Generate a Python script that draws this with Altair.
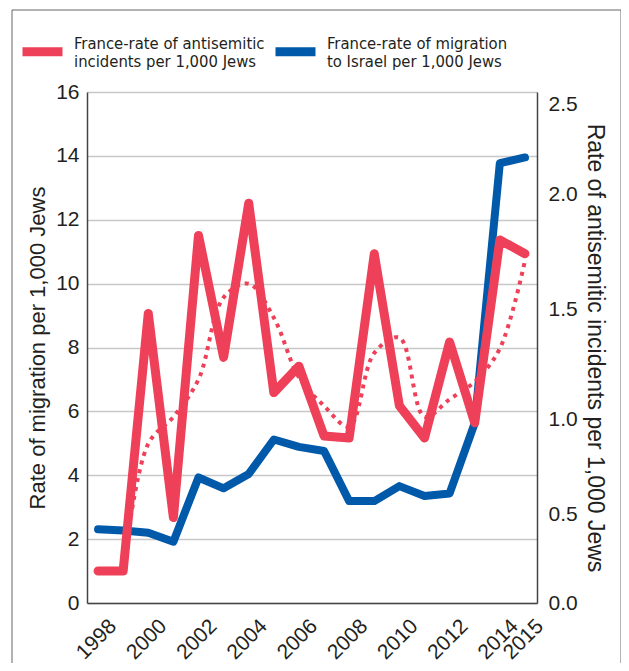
import altair as alt
import pandas as pd

years = list(range(1998, 2016))
migration = [2.31, 2.27, 2.20, 1.92, 3.93, 3.59, 4.04, 5.12, 4.89, 4.76,
             3.19, 3.19, 3.66, 3.35, 3.43, 5.63, 13.77, 13.95]
incidents = [0.18, 0.18, 1.48, 0.48, 1.82, 1.28, 1.96, 1.12, 1.24, 0.91,
             0.90, 1.74, 1.06, 0.90, 1.35, 0.98, 1.80, 1.74]
trend_years = list(range(1999, 2016))
trend = [0.18, 0.87, 1.01, 1.18, 1.55, 1.61, 1.46, 1.19, 1.06, 0.96,
         1.30, 1.37, 1.01, 1.09, 1.17, 1.32, 1.71]

label_red = "France-rate of antisemitic|incidents per 1,000 Jews"
label_blue = "France-rate of migration|to Israel per 1,000 Jews"
series_names = [label_red, label_blue]
series_colors = ["#EF4059", "#0059A9"]

x_ticks = [1998, 2000, 2002, 2004, 2006, 2008, 2010, 2012, 2014, 2015]
left_ticks = [0, 2, 4, 6, 8, 10, 12, 14, 16]
right_ticks = [0, 0.5, 1.0, 1.5, 2.0, 2.5]

df_blue = pd.DataFrame({"year": years, "value": migration, "series": label_blue})
df_red = pd.DataFrame({"year": years, "value": incidents, "series": label_red})
df_trend = pd.DataFrame({"year": trend_years, "value": trend})
df_frame = pd.DataFrame({"k": [0]})

FONT = "Liberation Sans"
NARROW = "'DejaVu Sans Condensed', Roboto, sans-serif"

x_enc = alt.X(
    "year:Q",
    scale=alt.Scale(domain=[1997.56, 2015.48], nice=False, zero=False),
    axis=alt.Axis(values=x_ticks, format="d", labelAngle=-45, grid=False,
                  ticks=False, labelFlush=False, labelOverlap=False,
                  labelFontSize=21, labelPadding=12, labelOffset=7, title=None,
                  domainColor="#444444", domainWidth=1.5),
)

color_enc = alt.Color(
    "series:N",
    scale=alt.Scale(domain=series_names, range=series_colors),
    legend=alt.Legend(
        orient="none", legendX=-69, legendY=-65, direction="horizontal",
        title=None, symbolType="stroke", symbolStrokeWidth=9, symbolSize=1600,
        symbolOpacity=1, labelFont=NARROW, labelFontSize=16.5, labelLimit=400,
        labelColor="#231f20", labelExpr="split(datum.label, '|')",
        labelBaseline="bottom",
        columnPadding=-8, labelOffset=7, padding=0,
    ),
)

frame = alt.Chart(df_frame).mark_rect(
    fill="white", fillOpacity=0, stroke="#666666", strokeWidth=1
).encode(
    x=alt.value(-75), x2=alt.value(534), y=alt.value(-82), y2=alt.value(700)
)

blue = alt.Chart(df_blue).mark_line(
    strokeWidth=8, strokeCap="round", strokeJoin="round"
).encode(
    x=x_enc,
    y=alt.Y("value:Q",
            scale=alt.Scale(domain=[0, 16], nice=False, zero=True),
            axis=alt.Axis(values=left_ticks, format="d", grid=True,
                          gridColor="#c8c8c8", gridWidth=1.5, ticks=False,
                          labelFontSize=21, labelPadding=8,
                          domainColor="#444444", domainWidth=1.5,
                          title="Rate of migration per 1,000 Jews",
                          titleFontSize=22, titlePadding=6)),
    color=color_enc,
)

right_scale = alt.Scale(
    domain=[0, 0.5, 1.0, 1.5, 2.0, 2.5, 2.567],
    range=[511, 422, 327, 217, 102, 12, 0],
    nice=False, zero=False,
)
right_axis = alt.Axis(orient="right", values=right_ticks, format=".1f",
                      grid=False, ticks=False, labelFontSize=21,
                      labelPadding=11, domainColor="#444444", domainWidth=1.5,
                      title="Rate of antisemitic incidents per 1,000 Jews",
                      titleFontSize=23, titlePadding=5)

dotted = alt.Chart(df_trend).mark_line(
    strokeWidth=4, strokeDash=[4, 5], interpolate="catmull-rom",
    color=series_colors[0]
).encode(
    x=x_enc,
    y=alt.Y("value:Q", scale=right_scale, axis=right_axis),
)

red = alt.Chart(df_red).mark_line(
    strokeWidth=9, strokeCap="round", strokeJoin="round"
).encode(
    x=x_enc,
    y=alt.Y("value:Q", scale=right_scale, axis=right_axis),
    color=color_enc,
)

chart = alt.layer(frame, blue, alt.layer(dotted, red)).resolve_scale(
    y="independent"
).properties(
    width=450, height=511,
    autosize=alt.AutoSizeParams(type="none"),
    padding={"left": 79, "top": 84, "right": 84, "bottom": 60},
).configure_view(stroke=None).configure_axis(
    labelFont=FONT, titleFont=FONT, labelColor="#231f20",
    titleColor="#231f20", titleFontWeight="normal",
)

chart.save("out.html", embed_options={"renderer": "svg", "actions": False})
